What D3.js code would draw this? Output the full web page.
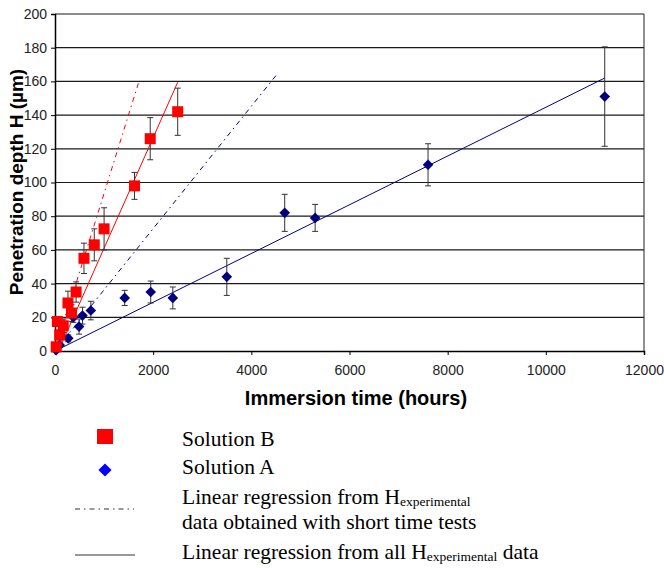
<!DOCTYPE html>
<html>
<head>
<meta charset="utf-8">
<script src="https://cdn.jsdelivr.net/npm/d3@7"></script>
<style>
  body { margin: 0; background: #fff; }
  svg { display: block; }
</style>
</head>
<body>
<svg width="664" height="568"></svg>
<script>
// Solution B (red squares): immersion time (h), depth (um), half error bar
var timeB = [24, 48, 96, 168, 264, 336, 430, 590, 800, 1000, 1620, 1940, 2500];
var depthB = [2.5, 17.5, 9.5, 15, 28.5, 22.5, 35, 55, 63, 72.5, 98, 126, 142];
var errB = [1, 3, 3, 4, 7, 5, 6, 9, 9.5, 12.5, 8, 12.5, 14];

// Solution A (navy diamonds)
var timeA = [24, 96, 270, 375, 490, 560, 730, 1420, 1950, 2400, 3500, 4680, 5300, 7600, 11200];
var depthA = [0.5, 3.5, 7.5, 20, 14.5, 21, 24, 31.5, 35, 31.5, 44, 82, 79, 110.5, 151];
var errA = [0.5, 1, 2, 3, 4.5, 5, 5.5, 4.5, 6.5, 6.5, 11, 11, 8, 12.5, 29.5];

// regression lines: [t0, H0, t1, H1]
var regBShort = [0, 0, 1700, 159];
var regBAll = [70, 0, 2500, 159.5];
var regAShort = [0, 0, 4530, 164.5];
var regAAll = [0, 0, 11200, 162];

var xTicks = [0, 2000, 4000, 6000, 8000, 10000, 12000];
var yTicks = [0, 20, 40, 60, 80, 100, 120, 140, 160, 180, 200];

var svg = d3.select("svg");

var x = d3.scaleLinear().domain([0, 12000]).range([55, 644]);
var y = d3.scaleLinear().domain([0, 200]).range([351, 14]);

// gridlines
svg.append("g")
  .selectAll("line")
  .data(yTicks.slice(1))
  .enter().append("line")
    .attr("x1", x(0)).attr("x2", x(12000))
    .attr("y1", function(d) { return y(d); })
    .attr("y2", function(d) { return y(d); })
    .attr("stroke", "#1a1a1a")
    .attr("stroke-width", 1.2);

// right border
svg.append("line")
  .attr("x1", x(12000)).attr("x2", x(12000))
  .attr("y1", y(200)).attr("y2", y(0))
  .attr("stroke", "#222");

// axes
var xAxis = svg.append("g")
  .attr("transform", "translate(0," + y(0) + ")")
  .call(d3.axisBottom(x).tickValues(xTicks).tickSize(4).tickPadding(10).tickFormat(d3.format("d")));
var yAxis = svg.append("g")
  .attr("transform", "translate(" + x(0) + ",0)")
  .call(d3.axisLeft(y).tickValues(yTicks).tickSize(4).tickPadding(4));

[xAxis, yAxis].forEach(function(a) {
  a.selectAll("path").attr("stroke", "#000").attr("stroke-width", 1.5);
  a.selectAll("line").attr("stroke", "#000");
  a.selectAll("text")
    .attr("fill", "#222")
    .style("font-family", "'Liberation Sans', Arial, sans-serif")
    .style("font-size", "14px");
});

// regression lines
function regLine(r, color, dash) {
  svg.append("line")
    .attr("x1", x(r[0])).attr("y1", y(r[1]))
    .attr("x2", x(r[2])).attr("y2", y(r[3]))
    .attr("stroke", color)
    .attr("stroke-width", 1)
    .attr("stroke-dasharray", dash);
}
regLine(regBShort, "#ff0000", "5,4,1.5,4");
regLine(regBAll, "#ff0000", null);
regLine(regAShort, "#000080", "5,4,1.5,4");
regLine(regAAll, "#000080", null);

// error bars
function errorBars(ts, hs, es) {
  var g = svg.append("g").attr("stroke", "#333").attr("stroke-width", 1);
  ts.forEach(function(t, i) {
    var cx = x(t), lo = y(hs[i] - es[i]), hi = y(hs[i] + es[i]);
    g.append("line").attr("x1", cx).attr("x2", cx).attr("y1", lo).attr("y2", hi);
    g.append("line").attr("x1", cx - 3).attr("x2", cx + 3).attr("y1", lo).attr("y2", lo);
    g.append("line").attr("x1", cx - 3).attr("x2", cx + 3).attr("y1", hi).attr("y2", hi);
  });
}
errorBars(timeA, depthA, errA);
errorBars(timeB, depthB, errB);

// markers
svg.append("g")
  .selectAll("path")
  .data(timeA)
  .enter().append("path")
    .attr("d", d3.symbol().type(d3.symbolDiamond2).size(72))
    .attr("transform", function(d, i) { return "translate(" + x(d) + "," + y(depthA[i]) + ")"; })
    .attr("fill", "#000080");

svg.append("g")
  .selectAll("rect")
  .data(timeB)
  .enter().append("rect")
    .attr("x", function(d) { return x(d) - 5.5; })
    .attr("y", function(d, i) { return y(depthB[i]) - 5.5; })
    .attr("width", 11).attr("height", 11)
    .attr("fill", "#ff0000");

// axis titles
svg.append("text")
  .attr("x", 356).attr("y", 405)
  .attr("text-anchor", "middle")
  .style("font-family", "'Liberation Sans', Arial, sans-serif")
  .style("font-weight", "bold")
  .style("font-size", "20px")
  .text("Immersion time (hours)");

svg.append("text")
  .attr("transform", "translate(23,182) rotate(-90)")
  .attr("text-anchor", "middle")
  .style("font-family", "'Liberation Sans', Arial, sans-serif")
  .style("font-weight", "bold")
  .style("font-size", "19px")
  .text("Penetration depth H (\u00b5m)");

// legend
var leg = svg.append("g")
  .style("font-family", "'Liberation Serif', 'Times New Roman', serif")
  .style("font-size", "21.5px")
  .attr("fill", "#000");

leg.append("rect").attr("x", 97).attr("y", 429).attr("width", 16).attr("height", 15).attr("fill", "#ff0000");
leg.append("path")
  .attr("d", d3.symbol().type(d3.symbolDiamond2).size(110))
  .attr("transform", "translate(105,470)")
  .attr("fill", "#0000ff");
leg.append("line").attr("x1", 75).attr("x2", 134).attr("y1", 509).attr("y2", 509)
  .attr("stroke", "#333").attr("stroke-dasharray", "5,4,1.5,4");
leg.append("line").attr("x1", 75).attr("x2", 135).attr("y1", 555).attr("y2", 555)
  .attr("stroke", "#333");

leg.append("text").attr("x", 182).attr("y", 446).text("Solution B");
leg.append("text").attr("x", 182).attr("y", 474).text("Solution A");
var t1 = leg.append("text").attr("x", 182).attr("y", 504);
t1.append("tspan").text("Linear regression from H");
t1.append("tspan").attr("dy", 2).style("font-size", "13.5px").text("experimental");
leg.append("text").attr("x", 182).attr("y", 529).text("data obtained with short time tests");
var t2 = leg.append("text").attr("x", 182).attr("y", 559);
t2.append("tspan").text("Linear regression from all H");
t2.append("tspan").attr("dy", 2).style("font-size", "13.5px").text("experimental");
t2.append("tspan").attr("dy", -2).text(" data");
</script>
</body>
</html>
